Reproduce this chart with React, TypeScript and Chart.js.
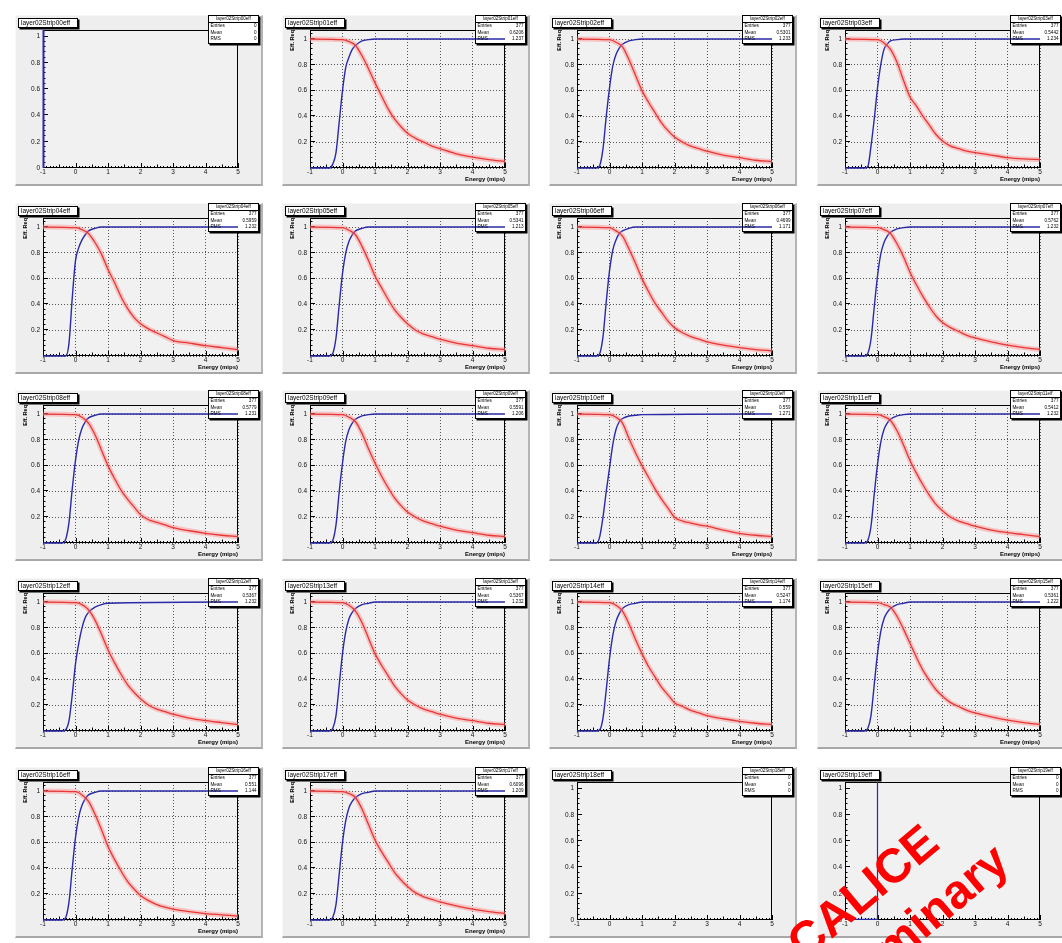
import React, { useEffect, useRef } from 'react';
import { Chart, registerables } from 'chart.js';

Chart.register(...registerables);

// ---------------- data ----------------
const PANEL_NAMES = [
  'layer02Strip00eff', 'layer02Strip01eff', 'layer02Strip02eff', 'layer02Strip03eff',
  'layer02Strip04eff', 'layer02Strip05eff', 'layer02Strip06eff', 'layer02Strip07eff',
  'layer02Strip08eff', 'layer02Strip09eff', 'layer02Strip10eff', 'layer02Strip11eff',
  'layer02Strip12eff', 'layer02Strip13eff', 'layer02Strip14eff', 'layer02Strip15eff',
  'layer02Strip16eff', 'layer02Strip17eff', 'layer02Strip18eff', 'layer02Strip19eff',
];
const ENTRIES = ['0', '377', '377', '377', '377', '377', '377', '377', '377', '377', '377', '377', '377', '377', '377', '377', '377', '377', '0', '0'];
const MEANS = ['0', '0.6206', '0.5301', '0.5442', '0.5959', '0.5341', '0.4699', '0.5762', '0.5779', '0.5591', '0.559', '0.5412', '0.5367', '0.5367', '0.5247', '0.5361', '0.551', '0.6096', '0', '0'];
const RMSS = ['0', '1.237', '1.233', '1.234', '1.232', '1.213', '1.171', '1.232', '1.231', '1.206', '1.271', '1.232', '1.232', '1.232', '1.174', '1.222', '1.144', '1.209', '0', '0'];

const X_TICKS = [-1, 0, 1, 2, 3, 4, 5];
const X_TICK_LABELS = ['-1', '0', '1', '2', '3', '4', '5'];
const Y_TICKS = [0, 0.2, 0.4, 0.6, 0.8, 1];
const Y_TICK_LABELS = ['0', '0.2', '0.4', '0.6', '0.8', '1'];
const X_TITLE = 'Energy (mips)';
const Y_TITLE = 'Eff. Req';

const RED_X = [-1, 0, 0.2, 0.4, 0.6, 0.8, 1.0, 1.2, 1.4, 1.6, 1.8, 2.0, 2.25, 2.5, 2.75, 3.0, 3.5, 4.0, 4.5, 5.0];
const BLUE_X = [-1, -0.4, -0.3, -0.2, -0.1, 0, 0.1, 0.2, 0.3, 0.4, 0.6, 0.8, 1.0, 5.0];

const R01 = [1, 0.995, 0.98, 0.95, 0.87, 0.77, 0.66, 0.56, 0.46, 0.38, 0.32, 0.27, 0.23, 0.2, 0.17, 0.15, 0.11, 0.085, 0.065, 0.05];
const R02 = [1, 0.995, 0.975, 0.94, 0.84, 0.72, 0.6, 0.51, 0.43, 0.35, 0.29, 0.24, 0.2, 0.17, 0.15, 0.13, 0.1, 0.08, 0.06, 0.05];
const R03 = [1, 0.995, 0.97, 0.92, 0.82, 0.68, 0.55, 0.48, 0.4, 0.33, 0.26, 0.21, 0.17, 0.15, 0.13, 0.12, 0.1, 0.08, 0.07, 0.065];
const R04 = [1, 0.995, 0.98, 0.95, 0.88, 0.79, 0.67, 0.57, 0.46, 0.37, 0.3, 0.25, 0.21, 0.18, 0.15, 0.12, 0.1, 0.08, 0.065, 0.05];
const R05 = [1, 0.995, 0.975, 0.94, 0.85, 0.74, 0.62, 0.53, 0.44, 0.36, 0.3, 0.25, 0.2, 0.17, 0.15, 0.13, 0.1, 0.08, 0.06, 0.05];
const R06 = [1, 0.995, 0.97, 0.93, 0.83, 0.72, 0.6, 0.5, 0.41, 0.34, 0.27, 0.22, 0.18, 0.15, 0.13, 0.11, 0.085, 0.065, 0.05, 0.04];
const R07 = [1, 0.995, 0.98, 0.95, 0.87, 0.77, 0.65, 0.55, 0.46, 0.38, 0.31, 0.26, 0.22, 0.19, 0.16, 0.14, 0.11, 0.085, 0.065, 0.05];
const R08 = [1, 0.995, 0.975, 0.93, 0.84, 0.72, 0.6, 0.5, 0.41, 0.34, 0.28, 0.22, 0.18, 0.16, 0.14, 0.12, 0.095, 0.075, 0.06, 0.05];
const R09 = [1, 0.995, 0.975, 0.94, 0.85, 0.73, 0.62, 0.52, 0.43, 0.35, 0.29, 0.24, 0.2, 0.17, 0.15, 0.13, 0.1, 0.08, 0.06, 0.05];
const R10 = [1, 0.995, 0.975, 0.93, 0.81, 0.7, 0.6, 0.51, 0.42, 0.34, 0.27, 0.2, 0.17, 0.155, 0.14, 0.13, 0.1, 0.075, 0.06, 0.05];
const R11 = [1, 0.995, 0.98, 0.95, 0.87, 0.76, 0.64, 0.54, 0.45, 0.37, 0.3, 0.25, 0.2, 0.17, 0.15, 0.13, 0.1, 0.08, 0.065, 0.05];
const R12 = [1, 0.995, 0.98, 0.94, 0.86, 0.75, 0.63, 0.53, 0.44, 0.36, 0.3, 0.25, 0.2, 0.17, 0.15, 0.13, 0.1, 0.08, 0.065, 0.05];
const R13 = [1, 0.995, 0.975, 0.93, 0.84, 0.72, 0.6, 0.51, 0.43, 0.35, 0.29, 0.24, 0.2, 0.17, 0.15, 0.13, 0.1, 0.08, 0.06, 0.05];
const R14 = [1, 0.995, 0.975, 0.93, 0.83, 0.71, 0.6, 0.5, 0.42, 0.34, 0.28, 0.22, 0.19, 0.16, 0.14, 0.12, 0.095, 0.075, 0.06, 0.05];
const R15 = [1, 0.995, 0.98, 0.96, 0.89, 0.79, 0.68, 0.57, 0.47, 0.39, 0.32, 0.27, 0.22, 0.19, 0.16, 0.14, 0.11, 0.085, 0.065, 0.05];
const R16 = [1, 0.995, 0.97, 0.92, 0.82, 0.7, 0.57, 0.47, 0.38, 0.3, 0.24, 0.19, 0.15, 0.12, 0.1, 0.085, 0.065, 0.05, 0.04, 0.03];
const R17 = [1, 0.995, 0.98, 0.95, 0.86, 0.74, 0.62, 0.53, 0.45, 0.37, 0.31, 0.26, 0.21, 0.18, 0.16, 0.14, 0.11, 0.085, 0.065, 0.05];

const B01 = [0, 0, 0.03, 0.12, 0.36, 0.6, 0.78, 0.86, 0.92, 0.95, 0.985, 0.995, 1, 1];
const B02 = [0, 0, 0.02, 0.15, 0.4, 0.62, 0.79, 0.88, 0.93, 0.96, 0.985, 0.995, 1, 1];
const B03 = [0, 0, 0.01, 0.17, 0.38, 0.62, 0.8, 0.92, 0.96, 0.985, 0.995, 1, 1, 1];
const B04 = [0, 0, 0, 0.1, 0.45, 0.74, 0.84, 0.9, 0.94, 0.97, 0.99, 1, 1, 1];
const B05 = [0, 0, 0.02, 0.14, 0.4, 0.64, 0.8, 0.89, 0.94, 0.97, 0.99, 1, 1, 1];
const B06 = [0, 0, 0.02, 0.15, 0.42, 0.66, 0.82, 0.9, 0.95, 0.97, 0.99, 1, 1, 1];
const B07 = [0, 0, 0.02, 0.13, 0.38, 0.62, 0.79, 0.88, 0.93, 0.96, 0.985, 0.995, 1, 1];
const B08 = [0, 0, 0.03, 0.16, 0.42, 0.64, 0.8, 0.89, 0.94, 0.97, 0.99, 1, 1, 1];
const B09 = [0, 0, 0.02, 0.14, 0.4, 0.62, 0.79, 0.88, 0.93, 0.96, 0.985, 0.995, 1, 1];
const B10 = [0, 0, 0.05, 0.2, 0.4, 0.58, 0.76, 0.88, 0.94, 0.965, 0.985, 0.99, 0.995, 1];
const B11 = [0, 0, 0.02, 0.13, 0.38, 0.61, 0.78, 0.88, 0.93, 0.96, 0.985, 0.995, 1, 1];
const B12 = [0, 0, 0.01, 0.08, 0.28, 0.52, 0.68, 0.8, 0.88, 0.92, 0.96, 0.98, 0.99, 1];
const B13 = [0, 0, 0.02, 0.12, 0.36, 0.6, 0.77, 0.87, 0.92, 0.95, 0.98, 0.99, 1, 1];
const B14 = [0, 0, 0.01, 0.1, 0.32, 0.56, 0.74, 0.85, 0.91, 0.95, 0.98, 0.99, 1, 1];
const B15 = [0, 0, 0.02, 0.12, 0.36, 0.6, 0.77, 0.87, 0.92, 0.95, 0.98, 0.99, 1, 1];
const B16 = [0, 0, 0.02, 0.14, 0.4, 0.64, 0.8, 0.89, 0.94, 0.97, 0.99, 1, 1, 1];
const B17 = [0, 0, 0.02, 0.12, 0.36, 0.6, 0.77, 0.87, 0.92, 0.95, 0.98, 0.99, 1, 1];

const P00_BLUE_X = [-0.985, -0.985];
const P00_BLUE_Y = [0, 1.05];
const P19_BLUE_X = [-1, 0, 0];
const P19_BLUE_Y = [0.004, 0.004, 1.05];

const RED_SERIES = [null, R01, R02, R03, R04, R05, R06, R07, R08, R09, R10, R11, R12, R13, R14, R15, R16, R17, null, null];
const BLUE_SERIES = [null, B01, B02, B03, B04, B05, B06, B07, B08, B09, B10, B11, B12, B13, B14, B15, B16, B17, null, null];

// ---------------- layout / style ----------------
const FONT = '"Liberation Sans", Arial, Helvetica, sans-serif';
const COL_L = [43, 310, 577, 845];
const ROW_B = [168, 356, 543, 731, 920];
const PANEL_W = 248;
const PANEL_H = 171;
const FRAME_LEFT = 28;
const FRAME_TOP = 15;
const FRAME_W = 195;
const FRAME_H = 138;
const STATS_LEFT = 193;
const STATS_TOP = 0;
const STATS_W = 51;
const STATS_H = 29;
const PANEL_BG = '#eeeeee';
const FRAME_BG = '#f1f1f1';
const RED = '#d40000';
const RED_BAND = 'rgba(255,130,130,0.42)';
const BLUE = '#2a2aa8';

const rootFramePlugin = {
  id: 'rootFrame',
  beforeDraw(chart: any) {
    const { ctx, chartArea: a } = chart;
    ctx.save();
    ctx.fillStyle = FRAME_BG;
    ctx.fillRect(a.left, a.top, a.right - a.left, a.bottom - a.top);
    ctx.restore();
  },
  beforeDatasetsDraw(chart: any) {
    const { ctx, chartArea: a, scales } = chart;
    const xs = scales.x;
    const ys = scales.y;
    ctx.save();
    ctx.strokeStyle = '#000';
    ctx.lineWidth = 1;
    ctx.strokeRect(a.left + 0.5, a.top + 0.5, a.right - a.left - 1, a.bottom - a.top - 1);
    ctx.beginPath();
    for (let i = -10; i <= 50; i++) {
      const px = Math.round(xs.getPixelForValue(i / 10)) + 0.5;
      const len = i % 10 === 0 ? 5 : i % 5 === 0 ? 3.5 : 2;
      ctx.moveTo(px, a.bottom);
      ctx.lineTo(px, a.bottom - len);
    }
    for (let i = 0; i * 0.04 <= ys.max + 1e-9; i++) {
      const py = Math.round(ys.getPixelForValue(i * 0.04)) - 0.5;
      const len = i % 5 === 0 ? 5 : 2.5;
      ctx.moveTo(a.left, py);
      ctx.lineTo(a.left + len, py);
    }
    ctx.stroke();
    ctx.fillStyle = '#ffffff';
    ctx.fillRect(STATS_LEFT, STATS_TOP, STATS_W, STATS_H);
    ctx.restore();
  },
};

function toPoints(xs: number[], ys: number[]) {
  return xs.map((x, i) => ({ x, y: ys[i] }));
}

function buildDatasets(index: number) {
  const ds: any[] = [];
  const red = RED_SERIES[index];
  const blue = BLUE_SERIES[index];
  const common = { pointRadius: 0, fill: false, clip: false };
  if (red) {
    ds.push({ ...common, data: toPoints(RED_X, red), borderColor: RED_BAND, borderWidth: 5, cubicInterpolationMode: 'monotone' });
    ds.push({ ...common, data: toPoints(RED_X, red), borderColor: RED, borderWidth: 1.3, cubicInterpolationMode: 'monotone' });
  }
  if (blue) {
    ds.push({ ...common, data: toPoints(BLUE_X, blue), borderColor: BLUE, borderWidth: 1.4, cubicInterpolationMode: 'monotone' });
  }
  if (index === 0) {
    ds.push({ ...common, data: toPoints(P00_BLUE_X, P00_BLUE_Y), borderColor: BLUE, borderWidth: 2, tension: 0 });
  }
  if (index === 19) {
    ds.push({ ...common, data: toPoints(P19_BLUE_X, P19_BLUE_Y), borderColor: BLUE, borderWidth: 1.2, tension: 0 });
  }
  return ds;
}

function Panel({ index }: { index: number }) {
  const ref = useRef<HTMLCanvasElement>(null);
  const col = index % 4;
  const row = Math.floor(index / 4);
  const left = COL_L[col] - FRAME_LEFT;
  const top = ROW_B[row] - FRAME_H - FRAME_TOP;
  const hasData = RED_SERIES[index] !== null;
  const hasGrid = hasData;

  useEffect(() => {
    const canvas = ref.current;
    if (!canvas) return;
    const yMax = hasData ? 1.07 : 1.05;
    const chart = new Chart(canvas, {
      type: 'line',
      data: { datasets: buildDatasets(index) },
      options: {
        animation: false,
        responsive: false,
        maintainAspectRatio: false,
        devicePixelRatio: 1,
        events: [],
        layout: { padding: { top: FRAME_TOP, right: PANEL_W - FRAME_LEFT - FRAME_W, left: 0, bottom: 0 } },
        plugins: { legend: { display: false }, tooltip: { enabled: false }, title: { display: false } },
        scales: {
          x: {
            type: 'linear',
            min: -1,
            max: 5,
            afterBuildTicks: (s: any) => { s.ticks = X_TICKS.map((v) => ({ value: v })); },
            afterFit: (s: any) => { s.height = PANEL_H - FRAME_TOP - FRAME_H; s.paddingLeft = 0; s.paddingRight = 0; },
            ticks: {
              autoSkip: false, maxRotation: 0, minRotation: 0, padding: 0, color: '#111',
              font: { family: FONT, size: 6.5 },
              callback: (_v: any, i: number) => X_TICK_LABELS[i],
            },
            grid: { display: hasGrid, drawTicks: false, color: '#555', lineWidth: 1 },
            border: { display: false, dash: [1, 2] },
          },
          y: {
            type: 'linear',
            min: 0,
            max: yMax,
            afterBuildTicks: (s: any) => { s.ticks = Y_TICKS.map((v) => ({ value: v })); },
            afterFit: (s: any) => { s.width = FRAME_LEFT; s.paddingTop = 0; s.paddingBottom = 0; },
            ticks: {
              autoSkip: false, padding: 3, color: '#111',
              font: { family: FONT, size: 6.5 },
              callback: (_v: any, i: number) => (hasData && i === 0 ? '' : Y_TICK_LABELS[i]),
            },
            grid: { display: hasGrid, drawTicks: false, color: '#555', lineWidth: 1 },
            border: { display: false, dash: [1, 2] },
          },
        },
      },
      plugins: [rootFramePlugin],
    } as any);
    return () => chart.destroy();
  }, [index]);

  const rowStyle: React.CSSProperties = {
    display: 'flex', justifyContent: 'space-between', height: 6.5, lineHeight: '6.5px', padding: '0 1.5px',
  };

  return (
    <div style={{ position: 'absolute', left, top, width: PANEL_W, height: PANEL_H }}>
      <div
        style={{
          position: 'absolute', left: 0, top: 0, width: PANEL_W, height: PANEL_H, boxSizing: 'border-box',
          background: PANEL_BG, borderRight: '2px solid #b4b4b4', borderBottom: '2px solid #a8a8a8',
          borderTop: '1px solid #f8f8f8', borderLeft: '1px solid #f8f8f8',
        }}
      />
      <canvas
        ref={ref}
        width={PANEL_W}
        height={PANEL_H}
        style={{ position: 'absolute', left: 0, top: 0, width: PANEL_W, height: PANEL_H }}
      />
      <div
        style={{
          position: 'absolute', left: 3, top: 3, width: 60, height: 10, boxSizing: 'border-box',
          background: '#fff', border: '1px solid #000', boxShadow: '1.5px 1.5px 0 #000',
          fontFamily: FONT, fontSize: 6.5, lineHeight: '8px', paddingLeft: 2, color: '#000', whiteSpace: 'nowrap', overflow: 'hidden',
        }}
      >
        {PANEL_NAMES[index]}
      </div>
      <div
        style={{
          position: 'absolute', left: STATS_LEFT, top: STATS_TOP, width: STATS_W, height: STATS_H, boxSizing: 'border-box',
          border: '1px solid #000', boxShadow: '1.5px 1.5px 0 #000', fontFamily: FONT, fontSize: 4.6, color: '#000',
          whiteSpace: 'nowrap', overflow: 'hidden',
        }}
      >
        <div style={{ textAlign: 'center', height: 6, lineHeight: '6px', borderBottom: '1px solid #000' }}>{PANEL_NAMES[index]}</div>
        <div style={rowStyle}><span>Entries</span><span>{ENTRIES[index]}</span></div>
        <div style={rowStyle}><span>Mean</span><span>{MEANS[index]}</span></div>
        <div style={rowStyle}><span>RMS</span><span>{RMSS[index]}</span></div>
      </div>
      {hasData && (
        <div
          style={{
            position: 'absolute', right: PANEL_W - FRAME_LEFT - FRAME_W, top: FRAME_TOP + FRAME_H + 8,
            fontFamily: FONT, fontSize: 6, lineHeight: '6px', fontWeight: 'bold', color: '#000', whiteSpace: 'nowrap',
          }}
        >
          {X_TITLE}
        </div>
      )}
      {hasData && (
        <div
          style={{
            position: 'absolute', left: 7, top: FRAME_TOP, writingMode: 'vertical-rl', transform: 'rotate(180deg)',
            fontFamily: FONT, fontSize: 5.5, lineHeight: '6px', fontWeight: 'bold', color: '#000', whiteSpace: 'nowrap',
          }}
        >
          {Y_TITLE}
        </div>
      )}
    </div>
  );
}

export default function App() {
  const indices = PANEL_NAMES.map((_n, i) => i);
  return (
    <div
      style={{
        position: 'fixed', left: 0, top: 0, width: 1062, height: 943, overflow: 'hidden', background: '#ffffff',
      }}
    >
      {indices.map((i) => (
        <Panel key={i} index={i} />
      ))}
      <div
        style={{
          position: 'absolute', left: 882, top: 915, transform: 'translate(-50%, -50%) rotate(-40deg)',
          color: '#ff0000', fontFamily: FONT, fontWeight: 'bold', fontSize: 48, lineHeight: '60px',
          textAlign: 'center', whiteSpace: 'nowrap', zIndex: 10, pointerEvents: 'none',
        }}
      >
        CALICE
        <br />
        Preliminary
      </div>
    </div>
  );
}
